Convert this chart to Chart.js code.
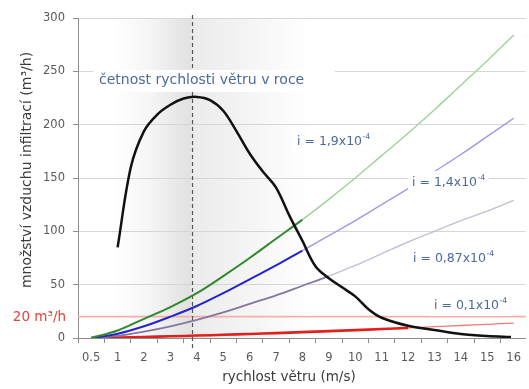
<!DOCTYPE html>
<html>
<head>
<meta charset="utf-8">
<script src="https://cdn.jsdelivr.net/npm/chart.js@4/dist/chart.umd.min.js"></script>
<style>
  html, body { margin: 0; padding: 0; background: #fff; overflow: hidden; }
  #wrap { width: 529px; height: 389px; }
</style>
</head>
<body>
<div id="wrap"><canvas id="chart" width="529" height="389"></canvas></div>
<script>
// Wind speed categories (m/s) and their axis labels
const speeds = [0.5, 1, 2, 3, 4, 5, 6, 7, 8, 9, 10, 11, 12, 13, 14, 15, 16];
const speedLabels = ['0.5', '1', '2', '3', '4', '5', '6', '7', '8', '9', '10', '11', '12', '13', '14', '15', '16'];

// Infiltration air flow (m3/h) for each joint permeability i
const flowI19 = [0, 7, 18, 29, 42, 58, 75, 93, 111, 130, 150, 171, 192, 214, 237, 260, 284];
const flowI14 = [0, 4, 11, 20, 30, 42, 55, 68, 82, 96, 110, 125, 140, 156, 172, 189, 206];
const flowI087 = [0, 2, 6, 11, 17, 24, 32, 40, 49, 58, 68, 79, 90, 100, 110, 119, 129];
const flowI01 = [0, 0.5, 1, 1.6, 2.3, 3, 3.8, 4.6, 5.5, 6.4, 7.4, 8.4, 9.5, 10.6, 11.7, 12.8, 14];

// Yearly frequency of wind speeds (drawn on the same vertical scale)
const freqSpeeds = [1, 1.5, 2, 2.5, 3, 3.5, 4, 4.5, 5, 5.5, 6, 6.5, 7, 7.5, 8, 8.5, 9, 9.5, 10, 10.5, 11, 12, 13, 14, 15, 15.9];
const freqValues = [85, 160, 194, 209.5, 218.7, 224.5, 226, 223, 213, 194, 173, 156, 141, 115, 91, 67, 56, 47.5, 39, 27, 19, 11.5, 7.5, 3.7, 1.8, 1];

const peakSpeed = 3.8;     // most frequent wind speed
const limitFlow = 20;      // required air exchange, m3/h
const yTicks = [0, 50, 100, 150, 200, 250, 300];

const FONT = '"DejaVu Sans", Verdana, sans-serif';
const NOTE = '#4d6a9c';

// Position of a wind speed on the category-like horizontal axis
function axisPos(s) {
  for (let i = 0; i < speeds.length - 1; i++) {
    if (s <= speeds[i + 1]) return i + (s - speeds[i]) / (speeds[i + 1] - speeds[i]);
  }
  return speeds.length - 1;
}

const freqPts = freqSpeeds.map((s, i) => ({ x: axisPos(s), y: freqValues[i] }));

// Frequency curve value at an axis position (linear between readings)
function freqAt(p) {
  if (p < freqPts[0].x) return Infinity;
  for (let i = 0; i < freqPts.length - 1; i++) {
    const a = freqPts[i], b = freqPts[i + 1];
    if (p <= b.x) return a.y + (b.y - a.y) * (p - a.x) / (b.x - a.x);
  }
  return 0;
}

function underFreq(c) {
  const xm = (c.p0.parsed.x + c.p1.parsed.x) / 2;
  const ym = (c.p0.parsed.y + c.p1.parsed.y) / 2;
  return ym < freqAt(xm);
}

function flowSet(values, dark, light, wDark, wLight) {
  return {
    data: values.map((v, i) => ({ x: axisPos(speeds[i]), y: v })),
    borderColor: dark,
    borderWidth: wDark,
    pointRadius: 0,
    tension: 0.35,
    segment: {
      borderColor: c => underFreq(c) ? dark : light,
      borderWidth: c => underFreq(c) ? wDark : wLight
    }
  };
}

// Shaded band around the most frequent wind speed
const bandPlugin = {
  id: 'windBand',
  beforeDraw(chart) {
    const { ctx, chartArea: a, scales: { x } } = chart;
    const xl = x.getPixelForValue(axisPos(0.9));
    const xp = x.getPixelForValue(axisPos(peakSpeed));
    const xr = x.getPixelForValue(axisPos(8.3));
    const t = (xp - xl) / (xr - xl);
    const g = ctx.createLinearGradient(xl, 0, xr, 0);
    g.addColorStop(0, 'rgba(255,255,255,1)');
    g.addColorStop(t * 0.45, '#f6f6f6');
    g.addColorStop(t - 0.002, '#e1e1e1');
    g.addColorStop(t, '#ebebeb');
    g.addColorStop(t + (1 - t) * 0.55, '#f6f6f6');
    g.addColorStop(1, 'rgba(255,255,255,1)');
    ctx.save();
    ctx.fillStyle = g;
    ctx.fillRect(xl, a.top, xr - xl, a.bottom - a.top);
    ctx.restore();
  }
};

// Required-flow line and the dashed marker at the most frequent speed
const guidePlugin = {
  id: 'guides',
  beforeDatasetsDraw(chart) {
    const { ctx, chartArea: a, scales: { x, y } } = chart;
    ctx.save();
    const yl = y.getPixelForValue(limitFlow);
    ctx.strokeStyle = '#f2b3a6';
    ctx.lineWidth = 1.6;
    ctx.beginPath();
    ctx.moveTo(a.left, yl);
    ctx.lineTo(a.right, yl);
    ctx.stroke();

    const xp = Math.round(x.getPixelForValue(axisPos(peakSpeed))) + 0.5;
    ctx.strokeStyle = '#555';
    ctx.lineWidth = 1.2;
    ctx.setLineDash([4, 3]);
    ctx.beginPath();
    ctx.moveTo(xp, a.top - 3);
    ctx.lineTo(xp, a.bottom + 11);
    ctx.stroke();
    ctx.restore();
  }
};

function textWithPower(ctx, base, pow, x, y, size) {
  ctx.font = size + 'px ' + FONT;
  const w = ctx.measureText(base).width;
  ctx.font = (size * 0.62) + 'px ' + FONT;
  const w2 = ctx.measureText(pow).width;
  return { w: w + w2, draw() {
    ctx.font = size + 'px ' + FONT;
    ctx.fillText(base, x, y);
    ctx.font = (size * 0.62) + 'px ' + FONT;
    ctx.fillText(pow, x + w + 0.5, y - size * 0.38);
  } };
}

// Captions, series notes and axis titles
const notesPlugin = {
  id: 'notes',
  afterDatasetsDraw(chart) {
    const { ctx } = chart;
    ctx.save();
    ctx.textBaseline = 'middle';
    ctx.textAlign = 'left';

    const boxed = (draw, x, y, w, h) => {
      ctx.fillStyle = '#fff';
      ctx.fillRect(x - 4, y - h / 2 - 2, w + 8, h + 4);
      ctx.fillStyle = NOTE;
      draw();
    };

    // Frequency caption
    ctx.font = '14px ' + FONT;
    const cap = 'četnost rychlosti větru v roce';
    const cw = ctx.measureText(cap).width;
    boxed(() => { ctx.font = '14px ' + FONT; ctx.fillText(cap, 99, 80); }, 97, 81, Math.max(cw, 234), 18);

    const notes = [
      ['i = 1,9x10', '-4', 297, 142],
      ['i = 1,4x10', '-4', 412, 183],
      ['i = 0,87x10', '-4', 413, 259],
      ['i = 0,1x10', '-4', 434, 306]
    ];
    notes.forEach(([b, p, x, y]) => {
      const t = textWithPower(ctx, b, p, x, y, 12.5);
      boxed(t.draw, x, y - 1, t.w, 18);
    });

    // Required flow label beside the vertical axis
    ctx.fillStyle = '#e8433a';
    ctx.font = '13.5px ' + FONT;
    ctx.textAlign = 'right';
    ctx.fillText('20 m³/h', 66, chart.scales.y.getPixelForValue(limitFlow) + 1);

    // Axis titles
    ctx.fillStyle = '#3c3c3c';
    ctx.textAlign = 'center';
    ctx.font = '13.5px ' + FONT;
    ctx.fillText('rychlost větru (m/s)', 289, 377);
    ctx.translate(27, 170);
    ctx.rotate(-Math.PI / 2);
    ctx.font = '14px ' + FONT;
    ctx.fillText('množství vzduchu infiltrací (m³/h)', 0, 0);
    ctx.restore();
  }
};

new Chart(document.getElementById('chart'), {
  type: 'line',
  data: {
    datasets: [
      {
        data: freqPts,
        borderColor: '#111',
        borderWidth: 2.5,
        pointRadius: 0,
        tension: 0.35
      },
      flowSet(flowI19, '#2f8a2f', '#9fd19a', 2, 1.4),
      flowSet(flowI14, '#2424c8', '#9d9ae6', 2, 1.4),
      flowSet(flowI087, '#85759f', '#c6bed6', 1.8, 1.4),
      flowSet(flowI01, '#e0201c', '#f27a78', 2.6, 1.3)
    ]
  },
  options: {
    responsive: false,
    animation: false,
    devicePixelRatio: 1,
    layout: { padding: { top: 18, right: 0, bottom: 0, left: 0 } },
    plugins: { legend: { display: false }, tooltip: { enabled: false } },
    scales: {
      x: {
        type: 'linear',
        min: -0.5,
        max: 16.46,
        afterBuildTicks: s => { s.ticks = speedLabels.map((_, i) => ({ value: i })); },
        afterFit: s => { s.height = 51; },
        ticks: {
          callback: v => speedLabels[Math.round(v)] ?? '',
          font: { family: FONT, size: 11.5 },
          color: '#5a5a5a',
          padding: 8,
          maxRotation: 0,
          autoSkip: false
        },
        grid: { offset: true, drawOnChartArea: false, tickLength: 5, tickColor: '#8c8c8c' },
        border: { color: '#8c8c8c' }
      },
      y: {
        min: 0,
        max: 300,
        afterBuildTicks: s => { s.ticks = yTicks.map(v => ({ value: v })); },
        afterFit: s => { s.width = 78; },
        ticks: { font: { family: FONT, size: 11.5 }, color: '#5a5a5a', padding: 8 },
        grid: { color: '#d6d6d6', tickColor: '#8c8c8c', tickLength: 5 },
        border: { color: '#8c8c8c' }
      }
    }
  },
  plugins: [bandPlugin, guidePlugin, notesPlugin]
});
</script>
</body>
</html>
